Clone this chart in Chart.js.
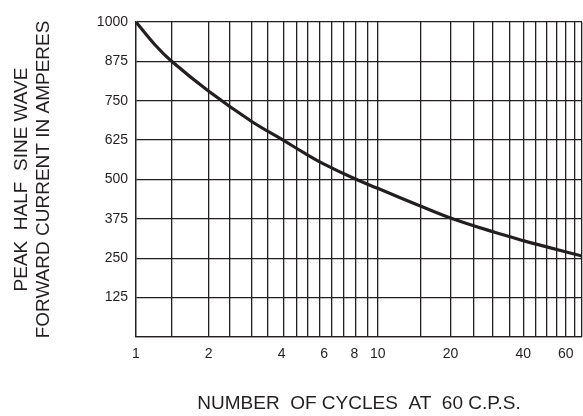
<!DOCTYPE html>
<html>
<head>
<meta charset="utf-8">
<script src="https://cdn.jsdelivr.net/npm/chart.js@4/dist/chart.umd.min.js"></script>
<style>
  html, body { margin: 0; padding: 0; background: #ffffff; }
  #wrap { width: 583px; height: 416px; }
</style>
</head>
<body>
<div id="wrap"><canvas id="c" width="583" height="416"></canvas></div>
<script>
// ---- data ----
const cycles = [1, 1.2, 1.4, 2, 3, 4, 5, 6, 8, 10, 15, 20, 30, 40, 50, 70];
const peakCurrent = [1000, 927, 876, 780, 685, 628, 583, 549, 503, 472, 416, 378, 334, 306, 286, 257];
const xGridValues = [1, 1.4, 2, 2.45, 3, 3.5, 4.1, 4.6, 5.15, 5.75, 6.45, 7.2, 8.1, 9.05, 10, 15, 20, 25, 30, 35, 40, 45, 50, 55, 60, 65, 70];
const xTickLabels = [1, 2, 4, 6, 8, 10, 20, 40, 60];
const yTickValues = [0, 125, 250, 375, 500, 625, 750, 875, 1000];
const yTitle = ['PEAK  HALF  SINE WAVE', 'FORWARD CURRENT IN AMPERES'];
const xTitle = 'NUMBER  OF CYCLES  AT  60 C.P.S.';

const INK = '#231f20';
const FONT = '"Liberation Sans", Arial, sans-serif';

const points = cycles.map((c, i) => ({ x: c, y: peakCurrent[i] }));

new Chart(document.getElementById('c'), {
  type: 'line',
  data: {
    datasets: [{
      data: points,
      xAxisID: 'x',
      yAxisID: 'y',
      borderColor: INK,
      borderWidth: 3.2,
      pointRadius: 0,
      fill: false,
      tension: 0.4
    }]
  },
  options: {
    responsive: false,
    animation: false,
    devicePixelRatio: 1,
    layout: { padding: { top: 22, right: 1, bottom: 0, left: 0 } },
    plugins: { legend: { display: false }, tooltip: { enabled: false } },
    scales: {
      x: {
        type: 'logarithmic',
        position: 'bottom',
        min: 1,
        max: 70,
        afterBuildTicks: (s) => { s.ticks = xGridValues.map(v => ({ value: v })); },
        ticks: { display: false },
        grid: { color: INK, lineWidth: 1.3, drawTicks: false },
        border: { color: INK, width: 1.3 }
      },
      x2: {
        type: 'logarithmic',
        position: 'bottom',
        min: 1,
        max: 70,
        afterBuildTicks: (s) => { s.ticks = xTickLabels.map(v => ({ value: v })); },
        afterFit: (s) => { s.height = 79; },
        grid: { display: false, drawTicks: false },
        border: { display: false },
        ticks: {
          autoSkip: false,
          maxRotation: 0,
          padding: 9,
          color: INK,
          font: { family: FONT, size: 14 },
          callback: (v) => String(v)
        },
        title: {
          display: true,
          text: xTitle,
          color: INK,
          font: { family: FONT, size: 19, lineHeight: 1.2 },
          padding: { top: 0, bottom: 1 }
        }
      },
      y: {
        type: 'linear',
        min: 0,
        max: 1000,
        afterBuildTicks: (s) => { s.ticks = yTickValues.map(v => ({ value: v })); },
        afterFit: (s) => { s.width = 136; },
        grid: { color: INK, lineWidth: 1.3, drawTicks: false },
        border: { color: INK, width: 1.3 },
        ticks: {
          padding: 8,
          color: INK,
          font: { family: FONT, size: 14 },
          callback: (v) => (v === 0 ? '' : String(v))
        },
        title: {
          display: true,
          text: yTitle,
          color: INK,
          font: { family: FONT, size: 19, lineHeight: 1.15 },
          padding: { top: 11, bottom: 0 }
        }
      }
    }
  }
});
</script>
</body>
</html>
